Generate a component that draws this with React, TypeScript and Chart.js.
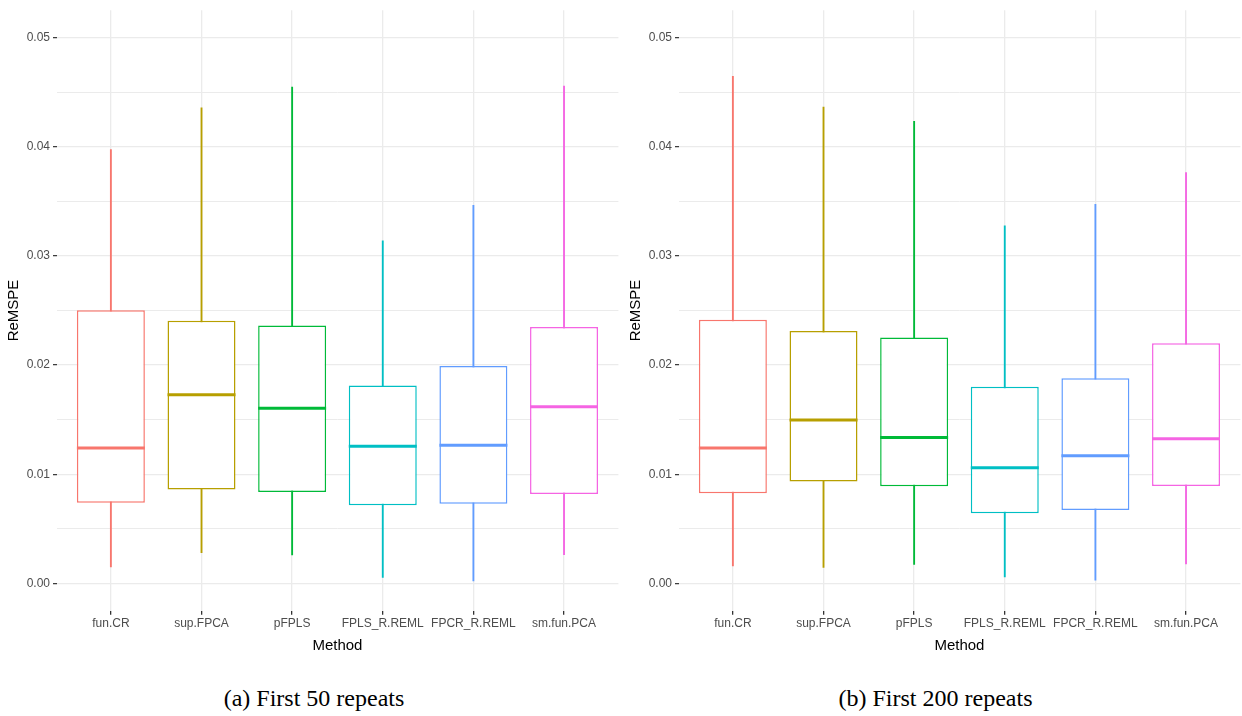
import React, { useEffect, useRef } from 'react';
import { Chart, registerables } from 'chart.js';

Chart.register(...registerables);

const methods = ['fun.CR', 'sup.FPCA', 'pFPLS', 'FPLS_R.REML', 'FPCR_R.REML', 'sm.fun.PCA'];
const colors = ['#F8766D', '#B79F00', '#00BA38', '#00BFC4', '#619CFF', '#F564E3'];
const yMajorTicks = [0, 0.01, 0.02, 0.03, 0.04, 0.05];
const yGridTicks = [0, 0.005, 0.01, 0.015, 0.02, 0.025, 0.03, 0.035, 0.04, 0.045, 0.05];

// (a) First 50 repeats
const aMin = [0.00152, 0.00282, 0.00261, 0.00055, 0.00024, 0.00264];
const aQ1 = [0.0074, 0.00861, 0.00837, 0.00716, 0.00731, 0.00819];
const aMed = [0.0124, 0.01729, 0.01604, 0.01256, 0.01265, 0.01619];
const aQ3 = [0.02502, 0.02405, 0.02362, 0.01813, 0.01992, 0.0235];
const aMax = [0.03973, 0.04355, 0.04545, 0.03139, 0.03463, 0.04555];

// (b) First 200 repeats
const bMin = [0.0016, 0.00147, 0.00175, 0.00061, 0.0003, 0.00179];
const bQ1 = [0.00827, 0.00933, 0.0089, 0.00643, 0.00674, 0.00892];
const bMed = [0.0124, 0.01497, 0.01338, 0.01061, 0.0117, 0.01326];
const bQ3 = [0.02415, 0.02312, 0.02252, 0.01802, 0.01879, 0.022];
const bMax = [0.04645, 0.04363, 0.04232, 0.03275, 0.03472, 0.03763];

const BOX_FRACTION = 0.75;

const isMajor = (v: number) => yMajorTicks.some((t) => Math.abs(t - v) < 1e-9);

function buildConfig(mn: number[], q1: number[], med: number[], q3: number[], mx: number[]): any {
  const xs = methods.map((_, i) => i + 1);
  return {
    type: 'bar',
    data: {
      datasets: [
        {
          type: 'line',
          label: 'median',
          order: 0,
          showLine: false,
          data: xs.map((x, i) => ({ x, y: med[i] })),
          pointStyle: 'line',
          pointRadius: (ctx: any) => {
            const s = ctx.chart.scales.x;
            return Math.abs(s.getPixelForValue(1 + BOX_FRACTION / 2) - s.getPixelForValue(1));
          },
          pointHoverRadius: 0,
          pointBorderWidth: 3,
          pointBorderColor: colors,
          pointBackgroundColor: colors,
          borderColor: colors,
        },
        {
          label: 'box',
          order: 1,
          grouped: false,
          data: xs.map((x, i) => ({ x, y: [q1[i], q3[i]] })),
          backgroundColor: '#FFFFFF',
          borderColor: colors,
          borderWidth: 1.5,
          borderSkipped: false,
          categoryPercentage: 1,
          barPercentage: BOX_FRACTION,
        },
        {
          label: 'whisker',
          order: 2,
          grouped: false,
          data: xs.map((x, i) => ({ x, y: [mn[i], mx[i]] })),
          backgroundColor: colors,
          borderWidth: 0,
          barThickness: 1.2,
        },
      ],
    },
    options: {
      animation: false,
      responsive: false,
      maintainAspectRatio: false,
      layout: { padding: { top: 6.5, right: 1.6, left: 0, bottom: 0 } },
      plugins: {
        legend: { display: false },
        tooltip: { enabled: false },
      },
      events: [],
      scales: {
        x: {
          type: 'linear',
          min: 0.4,
          max: 6.6,
          offset: false,
          afterBuildTicks: (scale: any) => {
            scale.ticks = xs.map((v) => ({ value: v }));
          },
          afterFit: (scale: any) => {
            scale.height = 49.2;
          },
          border: { display: false },
          grid: {
            offset: false,
            color: '#EBEBEB',
            lineWidth: 1.3,
            drawTicks: true,
            tickLength: 4,
            tickWidth: 1.3,
            tickColor: '#333333',
          },
          ticks: {
            autoSkip: false,
            maxRotation: 0,
            minRotation: 0,
            padding: 1.5,
            color: '#4D4D4D',
            font: { family: 'Liberation Sans, Arial, sans-serif', size: 12 },
            callback: (v: any) => {
              const i = Math.round(Number(v)) - 1;
              return i >= 0 && i < methods.length ? methods[i] : '';
            },
          },
          title: {
            display: true,
            text: 'Method',
            color: '#000000',
            font: { family: 'Liberation Sans, Arial, sans-serif', size: 15 },
            padding: { top: 0, bottom: 5 },
          },
        },
        y: {
          type: 'linear',
          min: -0.0025,
          max: 0.0525,
          afterBuildTicks: (scale: any) => {
            scale.ticks = yGridTicks.map((v) => ({ value: v }));
          },
          afterFit: (scale: any) => {
            scale.width = 56.5;
          },
          border: { display: false },
          grid: {
            color: '#EBEBEB',
            lineWidth: (ctx: any) => (ctx.tick && isMajor(ctx.tick.value) ? 1.3 : 1.0),
            drawTicks: true,
            tickLength: 3.5,
            tickWidth: 1.2,
            tickColor: (ctx: any) => (ctx.tick && isMajor(ctx.tick.value) ? '#333333' : 'rgba(0,0,0,0)'),
          },
          ticks: {
            autoSkip: false,
            padding: 3,
            color: '#4D4D4D',
            font: { family: 'Liberation Sans, Arial, sans-serif', size: 12 },
            callback: (v: any) => (isMajor(Number(v)) ? Number(v).toFixed(2) : ''),
          },
          title: {
            display: true,
            text: 'ReMSPE',
            color: '#000000',
            font: { family: 'Liberation Sans, Arial, sans-serif', size: 15 },
            padding: { top: 5, bottom: 0 },
          },
        },
      },
    },
  };
}

function Panel(props: { left: number; mn: number[]; q1: number[]; med: number[]; q3: number[]; mx: number[] }) {
  const ref = useRef<HTMLCanvasElement | null>(null);
  useEffect(() => {
    if (!ref.current) return;
    const chart = new Chart(ref.current, buildConfig(props.mn, props.q1, props.med, props.q3, props.mx));
    return () => chart.destroy();
  }, []);
  return (
    <div style={{ position: 'absolute', left: props.left, top: 0, width: 620, height: 660 }}>
      <canvas ref={ref} width={620} height={660} style={{ width: 620, height: 660, display: 'block' }} />
    </div>
  );
}

const captionStyle: React.CSSProperties = {
  position: 'absolute',
  top: 686,
  width: 400,
  textAlign: 'center',
  fontFamily: '"Liberation Serif", "Times New Roman", serif',
  fontSize: 24,
  lineHeight: '24px',
  color: '#000000',
  whiteSpace: 'nowrap',
};

export default function App() {
  return (
    <div style={{ position: 'absolute', left: 0, top: 0, width: 1242, height: 716, background: '#FFFFFF', overflow: 'hidden' }}>
      <Panel left={0} mn={aMin} q1={aQ1} med={aMed} q3={aQ3} mx={aMax} />
      <Panel left={622} mn={bMin} q1={bQ1} med={bMed} q3={bQ3} mx={bMax} />
      <div style={{ ...captionStyle, left: 314 - 200 }}>(a) First 50 repeats</div>
      <div style={{ ...captionStyle, left: 935.5 - 200 }}>(b) First 200 repeats</div>
    </div>
  );
}
